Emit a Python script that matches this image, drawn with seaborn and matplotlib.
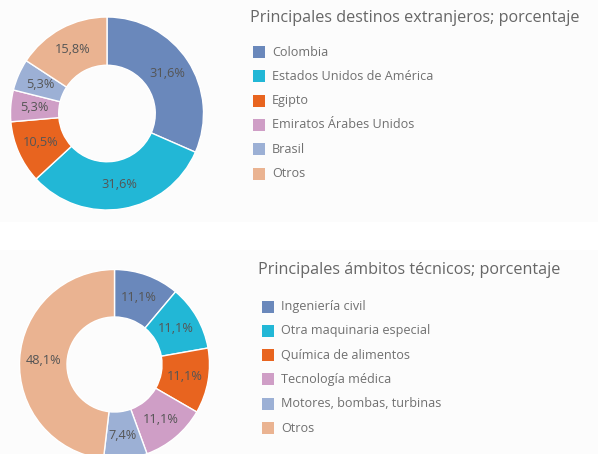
import matplotlib
matplotlib.use("Agg")
import matplotlib.pyplot as plt
from matplotlib.patches import Rectangle
import seaborn as sns

# ── data ──────────────────────────────────────────────────────────────
dest_labels = ["Colombia", "Estados Unidos de América", "Egipto",
               "Emiratos Árabes Unidos", "Brasil", "Otros"]
dest_pct = [31.6, 31.6, 10.5, 5.3, 5.3, 15.8]

tech_labels = ["Ingeniería civil", "Otra maquinaria especial", "Química de alimentos",
               "Tecnología médica", "Motores, bombas, turbinas", "Otros"]
tech_pct = [11.1, 11.1, 11.1, 11.1, 7.4, 48.1]

colors = ["#6a88bb", "#22b7d6", "#e8641f", "#cf9ec6", "#9cb0d5", "#eab391"]

sns.set_theme(style="white")
plt.rcParams["font.family"] = ["Open Sans", "DejaVu Sans"]

W, H = 598, 454
fig = plt.figure(figsize=(W / 100, H / 100), dpi=100)
fig.patch.set_facecolor("white")

# faint panel backgrounds
for y0, y1 in [(0, 222), (250, 454)]:
    fig.patches.append(Rectangle((0, 1 - y1 / H), 1, (y1 - y0) / H,
                                 transform=fig.transFigure, facecolor="#fcfcfc",
                                 edgecolor="none", zorder=-10))


def donut(cx, cy, r, values, title, tx, ty):
    ax = fig.add_axes([(cx - r) / W, 1 - (cy + r) / H, 2 * r / W, 2 * r / H])
    ax.pie(values, colors=colors, startangle=90, counterclock=False,
           radius=1, pctdistance=0.75,
           autopct=lambda p: f"{p:.1f}%".replace(".", ","),
           wedgeprops=dict(width=0.5, edgecolor="white", linewidth=1),
           textprops=dict(color="#555555", fontsize=9.2))
    ax.set_xlim(-1, 1)
    ax.set_ylim(-1, 1)
    ax.set_aspect("equal")
    ax.axis("off")
    fig.text(tx / W, 1 - ty / H, title, fontsize=11.6, color="#666666",
             ha="left", va="center")
    return ax


donut(107, 113.5, 96.5, dest_pct, "Principales destinos extranjeros; porcentaje", 250, 18)
donut(114.5, 364.5, 95, tech_pct, "Principales ámbitos técnicos; porcentaje", 258, 270)

# legends
for labels, lx, ly0 in [(dest_labels, 253, 52), (tech_labels, 262, 306.5)]:
    for i, lab in enumerate(labels):
        y = ly0 + i * 24.3
        fig.patches.append(Rectangle((lx / W, 1 - (y + 6) / H), 12 / W, 12 / H,
                                     transform=fig.transFigure, facecolor=colors[i],
                                     edgecolor="none"))
        fig.text((lx + 19) / W, 1 - y / H, lab, fontsize=9.1, color="#707070",
                 ha="left", va="center")

fig.savefig("out.png", dpi=100, facecolor=fig.get_facecolor())
